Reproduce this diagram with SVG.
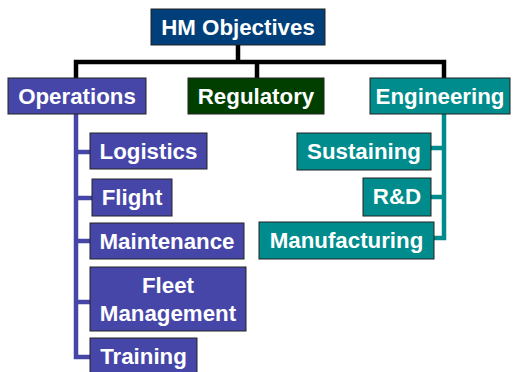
<svg xmlns="http://www.w3.org/2000/svg" width="515" height="372" viewBox="0 0 515 372">
<style>
text{font-family:"Liberation Sans",Arial,sans-serif;font-weight:bold;font-size:22.3px;fill:#fff;text-anchor:middle}
.box{stroke:#222;stroke-width:1}
.top{fill:#003F7A}
.ops{fill:#4646A8}
.reg{fill:#003F00}
.eng{fill:#008C8C}
.lk{fill:none;stroke-width:4.5}
</style>
<rect width="515" height="372" fill="#fff"/>
<g id="connectors">
<path class="lk" stroke="#000" d="M238 45V62M76 78V62H444V78M257 62V78"/>
<path class="lk" stroke="#4646A8" d="M76 114V357H90M76 152H90M76 198H92M76 241H90M76 302H90"/>
<path class="lk" stroke="#008C8C" d="M444 114V238H434M444 148H431M444 197H431"/>
</g>
<g id="hm"><rect class="box top" x="151" y="9" width="174" height="36"/><text x="238" y="35">HM Objectives</text></g>
<g id="operations"><rect class="box ops" x="8" y="78" width="138" height="36"/><text x="77" y="104">Operations</text></g>
<g id="regulatory"><rect class="box reg" x="188" y="78" width="136" height="36"/><text x="256" y="104">Regulatory</text></g>
<g id="engineering"><rect class="box eng" x="370" y="78" width="140" height="36"/><text x="440" y="104">Engineering</text></g>
<g id="logistics"><rect class="box ops" x="90" y="133" width="117" height="36"/><text x="148.5" y="159">Logistics</text></g>
<g id="flight"><rect class="box ops" x="92" y="179" width="80" height="37"/><text x="132" y="205">Flight</text></g>
<g id="maintenance"><rect class="box ops" x="90" y="223" width="154" height="36"/><text x="167" y="249">Maintenance</text></g>
<g id="fleet"><rect class="box ops" x="90" y="267" width="156" height="64"/><text x="168" y="293">Fleet</text><text x="168" y="321">Management</text></g>
<g id="training"><rect class="box ops" x="90" y="338" width="107" height="38"/><text x="143.5" y="364">Training</text></g>
<g id="sustaining"><rect class="box eng" x="297" y="133" width="134" height="37"/><text x="364" y="159">Sustaining</text></g>
<g id="rd"><rect class="box eng" x="363" y="178" width="68" height="38"/><text x="397" y="204">R&amp;D</text></g>
<g id="manufacturing"><rect class="box eng" x="259" y="222" width="175" height="37"/><text x="346.5" y="248">Manufacturing</text></g>
</svg>
